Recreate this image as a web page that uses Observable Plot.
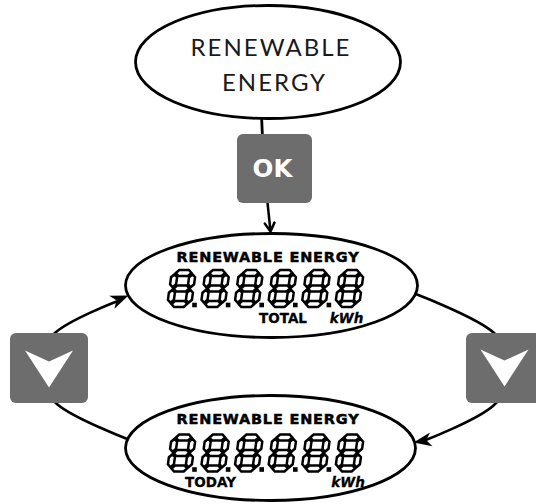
<!DOCTYPE html>
<html><head><meta charset="utf-8">
<script src="https://cdn.jsdelivr.net/npm/d3@7"></script>
<script src="https://cdn.jsdelivr.net/npm/@observablehq/plot@0.6"></script>
<style>body{margin:0;background:#fff} svg{display:block}</style>
</head><body><div id="chart"></div>
<script>
// ---------- content ----------
const topLabelLines = ["RENEWABLE", "ENERGY"];
const screenTitles = ["RENEWABLE ENERGY", "RENEWABLE ENERGY"];
const screenNames = ["TOTAL", "TODAY"];
const screenUnits = ["kWh", "kWh"];
const displayValues = ["8.8.8.8.8.8", "8.8.8.8.8.8"];
const buttonKinds = ["ok", "down", "down"];
const buttonText = ["OK"];

// ---------- layout (pixel space) ----------
const ellipses = [
  {cx: 267.5, cy: 61.5, rx: 132.5, ry: 56.5},
  {cx: 271, cy: 285, rx: 146, ry: 52},
  {cx: 270, cy: 447.5, rx: 145, ry: 52.5}
];
const buttonBoxes = [
  {x1: 237, x2: 312, y1: 134, y2: 203},
  {x1: 10, x2: 88, y1: 333, y2: 403},
  {x1: 466, x2: 545, y1: 333, y2: 403}
];
const downIconTips = [{x: 48.5, y: 387}, {x: 504, y: 386}];
const topTextX = [270.5, 274], topTextY = [55, 90];
const screenTitleY = [261, 423];
const screenNameX = [282.5, 210], screenNameY = [322, 486];
const unitX = [346, 347.5], unitY = [322, 486];
const digitRows = [{x0: 181, y: 288}, {x0: 181, y: 452.5}];
const digitPitch = 33.6;
const leftArc = [[128,439],[57,404],[31,368],[55,332],[116,301]];
const rightArc = [[414,293],[493,332],[516,368],[493,405],[424,440]];
const arcHeads = [{x: 128, y: 295, rotate: 68}, {x: 413, y: 442, rotate: 260}];

// ---------- custom symbols ----------
function ellipseSymbol(rx, ry) {
  const k = 0.5523;
  return {draw(c) {
    c.moveTo(rx, 0);
    c.bezierCurveTo(rx, ry*k, rx*k, ry, 0, ry);
    c.bezierCurveTo(-rx*k, ry, -rx, ry*k, -rx, 0);
    c.bezierCurveTo(-rx, -ry*k, -rx*k, -ry, 0, -ry);
    c.bezierCurveTo(rx*k, -ry, rx, -ry*k, rx, 0);
    c.closePath();
  }};
}
function stealthSymbol(w, L, n) { // tip at origin, pointing up
  return {draw(c) {
    c.moveTo(0, 0);
    c.lineTo(w/2, L);
    c.lineTo(0, L*n);
    c.lineTo(-w/2, L);
    c.closePath();
  }};
}
const SEG = {"0":"abcdef","1":"bc","2":"abged","3":"abgcd","4":"fgbc","5":"afgcd","6":"afgedc","7":"abc","8":"abcdefg","9":"abcdfg"};
function digitSymbol(ch) {
  const H = 37, W = 24, t = 6, g = 1.2, s = 0.14;
  const w = W/2 - t/2, h = H/2 - t/2;
  const hseg = (x0, x1, y) => [[x0,y],[x0+t/2,y-t/2],[x1-t/2,y-t/2],[x1,y],[x1-t/2,y+t/2],[x0+t/2,y+t/2]];
  const vseg = (x, y0, y1) => [[x,y0],[x+t/2,y0+t/2],[x+t/2,y1-t/2],[x,y1],[x-t/2,y1-t/2],[x-t/2,y0+t/2]];
  const segs = {
    a: hseg(-w+g, w-g, -h), g: hseg(-w+g, w-g, 0), d: hseg(-w+g, w-g, h),
    f: vseg(-w, -h+g, -g), b: vseg(w, -h+g, -g), e: vseg(-w, g, h-g), c: vseg(w, g, h-g)
  };
  return {draw(c) {
    for (const k of SEG[ch]) {
      const pts = segs[k].map(([x, y]) => [x - y*s, y]);
      c.moveTo(pts[0][0], pts[0][1]);
      for (const p of pts.slice(1)) c.lineTo(p[0], p[1]);
      c.closePath();
    }
  }};
}

// parse display strings into digit cells
const cells = [];
displayValues.forEach((v, r) => {
  let i = -1;
  for (const ch of v) {
    if (ch === ".") { cells[cells.length-1].dot = true; continue; }
    i++;
    cells.push({ch, row: r, x: digitRows[r].x0 + i*digitPitch, y: digitRows[r].y, dot: false});
  }
});
const digitChars = [...new Set(cells.map(d => d.ch))];

const marks = [
  // loop arcs
  Plot.line(leftArc, {x: d => d[0], y: d => d[1], curve: "catmull-rom", stroke: "black", strokeWidth: 2.6}),
  Plot.line(rightArc, {x: d => d[0], y: d => d[1], curve: "catmull-rom", stroke: "black", strokeWidth: 2.6}),
  Plot.link([{x1: 261, y1: 115, x2: 262, y2: 137}], {x1: "x1", y1: "y1", x2: "x2", y2: "y2", stroke: "black", strokeWidth: 2.8}),
  // ellipses
  ...ellipses.map(e => Plot.dot([e], {x: "cx", y: "cy", symbol: ellipseSymbol(e.rx, e.ry), fill: "white", stroke: "black", strokeWidth: 2.8})),
  // arrow from OK to screen
  Plot.arrow([{x1: 267, y1: 202, x2: 270, y2: 231}], {x1: "x1", y1: "y1", x2: "x2", y2: "y2", stroke: "black", strokeWidth: 2.5, headLength: 12, headAngle: 60}),
  // buttons
  Plot.rect(buttonBoxes, {x1: "x1", x2: "x2", y1: "y1", y2: "y2", fill: "#6d6d6d", rx: 6}),
  Plot.dot(downIconTips, {x: "x", y: "y", symbol: stealthSymbol(48, 37, 0.7), rotate: 180, fill: "white", stroke: "none"}),
  Plot.text(buttonText, {x: 272, y: 176, text: d => d, fill: "white", fontFamily: "DejaVu Sans", fontWeight: "bold", fontSize: 24.5, lineAnchor: "bottom"}),
  // top label
  Plot.text(topLabelLines, {x: (d, i) => topTextX[i], y: (d, i) => topTextY[i], text: d => d, fill: "#1a1a1a", fontFamily: "Lato", fontSize: 24, lineAnchor: "bottom", ariaLabel: () => "top-title"}),
  // screen labels
  Plot.text(screenTitles, {x: 267.5, y: (d, i) => screenTitleY[i], text: d => d, fill: "black", stroke: "black", strokeWidth: 0.5, fontFamily: "DejaVu Sans", fontWeight: "bold", fontSize: 14.5, lineAnchor: "bottom", ariaLabel: () => "lcd-title"}),
  Plot.text(screenNames, {x: (d, i) => screenNameX[i], y: (d, i) => screenNameY[i], text: d => d, fill: "black", stroke: "black", strokeWidth: 0.3, fontFamily: "DejaVu Sans", fontWeight: "bold", fontSize: 13.5, lineAnchor: "bottom"}),
  Plot.text(screenUnits, {x: (d, i) => unitX[i], y: (d, i) => unitY[i], text: d => d, fill: "black", stroke: "black", strokeWidth: 0.3, fontFamily: "DejaVu Sans", fontWeight: "bold", fontStyle: "italic", fontSize: 13.5, lineAnchor: "bottom"}),
  // seven-segment digits
  ...digitChars.map(ch => Plot.dot(cells.filter(d => d.ch === ch), {x: "x", y: "y", symbol: digitSymbol(ch), fill: "white", stroke: "black", strokeWidth: 2.5})),
  Plot.dot(cells.filter(d => d.dot), {x: d => d.x + 13, y: d => d.y + 16.5, symbol: "square", r: 2.6, fill: "black"}),
  // arrowheads on the loop
  Plot.dot(arcHeads, {x: "x", y: "y", rotate: "rotate", symbol: stealthSymbol(14, 18, 0.72), fill: "black", stroke: "none"})
];

const chart = Plot.plot({
  width: 536, height: 504, margin: 0,
  x: {domain: [0, 536], range: [0, 536], axis: null},
  y: {domain: [0, 504], range: [0, 504], axis: null},
  style: {background: "white"},
  marks
});
const spacing = {"top-title": "2px", "lcd-title": "0.8px"};
chart.querySelectorAll("text").forEach(t => {
  const lab = t.getAttribute("aria-label") || (t.parentNode && t.parentNode.getAttribute && t.parentNode.getAttribute("aria-label"));
  if (spacing[lab]) t.style.letterSpacing = spacing[lab];
});
document.getElementById("chart").appendChild(chart);
</script>
</body></html>
